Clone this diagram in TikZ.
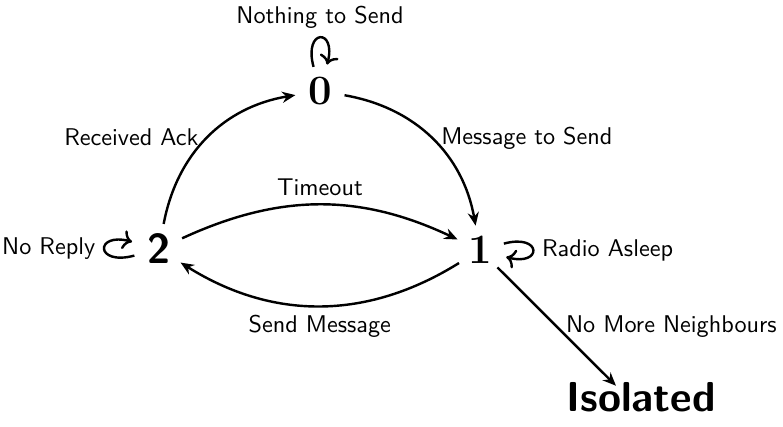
\documentclass[tikz,border=0pt]{standalone}
\usetikzlibrary{arrows.meta,calc}
\begin{document}
\begin{tikzpicture}[x=0.413pt,y=-0.413pt,
  state/.style={circle,inner sep=1.8pt,font=\LARGE\bfseries},
  sstate/.style={circle,inner sep=1.8pt,font=\LARGE\sffamily\bfseries},
  lbl/.style={font=\sffamily},
  trans/.style={-{Stealth[length=5.5pt,width=4.6pt]}, line width=1pt},
]
\useasboundingbox (0,0) rectangle (783,427);

% states
\node[state]  (n0) at (320,91)  {0};
\node[state]  (n1) at (480,250) {1};
\node[sstate] (n2) at (159,249) {2};
\node[font=\LARGE\sffamily\bfseries,inner sep=0pt] (iso) at (641,397) {Isolated};

% transitions
\path[trans,every node/.style={lbl}]
  (n0) edge[loop above] node[above] {Nothing to Send} (n0)
  (n2) edge[loop left]  node[left]  {No Reply} (n2)
  (n1) edge[loop right] node[right] {Radio Asleep} (n1)
  (n2) edge[bend left=35] node[left]  {Received Ack} (n0)
  (n0) edge[bend left=35] node[right] {Message to Send} (n1)
  (n2) edge[bend left=25] node[above] {Timeout} (n1)
  (n1) edge[bend left=32] node[below] {Send Message} (n2)
  (n1) edge node[right] {No More Neighbours} ($(iso.north)+(-25,4)$);
\end{tikzpicture}
\end{document}
